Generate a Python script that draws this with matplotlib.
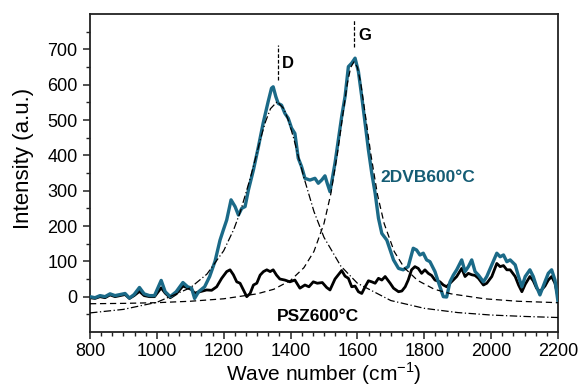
import matplotlib
matplotlib.use('Agg')
import matplotlib.pyplot as plt
import matplotlib.ticker as mticker

plt.rcParams['font.family'] = ['Liberation Sans', 'DejaVu Sans']
plt.rcParams['mathtext.fontset'] = 'custom'
plt.rcParams['mathtext.rm'] = 'Liberation Sans'

# 2DVB600°C spectrum
dvb_x = [800, 815, 830, 845, 860, 875, 890, 905, 918, 932, 948, 962, 978, 993,
         1013, 1025, 1040, 1058, 1078, 1092, 1104, 1113, 1125, 1143, 1158, 1174,
         1189, 1199, 1209, 1222, 1234, 1244, 1254, 1264, 1274, 1289, 1304, 1318,
         1333, 1343, 1348, 1356, 1363, 1373, 1383, 1393, 1403, 1413, 1423, 1433,
         1443, 1458, 1473, 1483, 1493, 1503, 1510, 1518, 1533, 1543, 1553, 1563,
         1573, 1583, 1593, 1603, 1613, 1623, 1633, 1643, 1653, 1663, 1673, 1688,
         1698, 1708, 1723, 1737, 1752, 1767, 1777, 1787, 1797, 1807, 1817, 1832,
         1842, 1857, 1867, 1877, 1887, 1897, 1912, 1922, 1932, 1942, 1952, 1962,
         1977, 1987, 2002, 2017, 2027, 2037, 2047, 2057, 2072, 2082, 2092, 2102,
         2116, 2126, 2136, 2146, 2161, 2171, 2181, 2191, 2200]
dvb_y = [0, -3, 3, 0, 8, 3, 6, 9, -4, 6, 26, 8, 3, 3,
         46, 14, 0, 14, 40, 28, 24, -5, 14, 28, 57, 100,
         160, 189, 217, 274, 255, 231, 250, 255, 302, 359, 425, 491,
         552, 590, 594, 566, 547, 542, 519, 505, 477, 462, 392, 368,
         335, 330, 335, 321, 330, 342, 320, 297, 378, 444, 510, 566,
         651, 661, 675, 637, 566, 491, 415, 349, 293, 222, 179, 160,
         132, 104, 80, 76, 85, 137, 132, 118, 123, 104, 99, 71,
         42, 0, -1, 42, 61, 76, 104, 71, 85, 104, 71, 61,
         42, 57, 90, 123, 113, 118, 99, 104, 90, 57, 28, 57,
         76, 57, 28, 5, 42, 66, 76, 47, -14]

# PSZ600°C spectrum
psz_x = [800, 815, 830, 845, 860, 875, 890, 905, 918, 932, 948, 962, 978, 993,
         1013, 1025, 1040, 1058, 1078, 1092, 1104, 1113, 1129, 1149, 1164, 1179,
         1194, 1209, 1219, 1229, 1239, 1249, 1259, 1269, 1279, 1289, 1299, 1309,
         1319, 1329, 1339, 1348, 1358, 1368, 1383, 1398, 1413, 1428, 1443, 1455,
         1468, 1480, 1495, 1508, 1518, 1533, 1553, 1563, 1573, 1583, 1593, 1603,
         1613, 1623, 1633, 1643, 1653, 1663, 1673, 1683, 1698, 1708, 1723, 1733,
         1743, 1752, 1762, 1772, 1782, 1792, 1802, 1812, 1822, 1832, 1847, 1857,
         1867, 1877, 1897, 1912, 1922, 1932, 1942, 1952, 1962, 1977, 1987, 2002,
         2017, 2027, 2037, 2047, 2057, 2072, 2082, 2092, 2102, 2116, 2126, 2136,
         2146, 2161, 2171, 2181, 2191, 2200]
psz_y = [-3, -5, 0, -3, 5, 0, 3, 6, -5, 3, 15, 3, 0, 0,
         25, 10, -3, 8, 30, 25, 20, 10, 14, 19, 18, 28,
         52, 71, 76, 62, 42, 38, 19, 0, 9, 33, 38, 61,
         71, 76, 71, 76, 61, 50, 47, 42, 47, 24, 33, 28,
         42, 38, 40, 26, 19, 50, 74, 58, 52, 28, 30, 14,
         9, 28, 45, 42, 38, 52, 47, 57, 38, 24, 14, 16,
         28, 47, 76, 85, 80, 66, 76, 66, 60, 47, 42, 33,
         28, 38, 57, 80, 57, 66, 62, 60, 52, 33, 38, 57,
         94, 85, 88, 76, 76, 57, 33, 14, 35, 57, 45, 24,
         14, 30, 47, 57, 38, 0]

# D band fit (dash-dot)
fitd_x = [800, 900, 1000, 1100, 1150, 1200, 1230, 1250, 1280, 1295, 1310, 1325,
          1340, 1360, 1380, 1395, 1410, 1425, 1440, 1470, 1500, 1550, 1600, 1700,
          1800, 1900, 2000, 2100, 2200]
fitd_y = [-46, -36, -16, 25, 64, 130, 190, 241, 337, 391, 446, 495,
          532, 552, 532, 495, 446, 391, 337, 241, 168, 87, 38, -11,
          -33, -45, -52, -56, -59]

# G band fit (dashed)
fitg_x = [800, 900, 1000, 1100, 1200, 1300, 1350, 1400, 1440, 1470, 1500, 1520,
          1540, 1555, 1570, 1580, 1590, 1600, 1610, 1625, 1640, 1660, 1680, 1710,
          1740, 1780, 1830, 1880, 1980, 2080, 2200]
fitg_y = [-20, -19, -17, -13, -6, 8, 21, 46, 82, 128, 207, 289,
          404, 506, 604, 649, 665, 649, 604, 506, 404, 289, 207, 128,
          82, 46, 21, 8, -6, -13, -17]

BLUE = '#1b6a88'
LABEL_BLUE = '#145c74'

fig = plt.figure(figsize=(5.79, 3.86), dpi=100)
ax = fig.add_axes([0.1554, 0.1399, 0.8083, 0.8238])

ax.plot(psz_x, psz_y, color='black', lw=2.0, zorder=2)
ax.plot(dvb_x, dvb_y, color=BLUE, lw=2.4, zorder=3)
ax.plot(fitd_x, fitd_y, color='black', lw=0.9, ls=(0, (6, 2, 1, 2)), zorder=4)
ax.plot(fitg_x, fitg_y, color='black', lw=0.9, ls=(0, (5, 3)), zorder=4)

# peak markers
ax.plot([1363, 1363], [613, 712], color='black', lw=0.9, ls=(0, (3, 1.5)))
ax.plot([1590, 1590], [708, 785], color='black', lw=0.9, ls=(0, (3, 1.5)))
ax.text(1374, 660, 'D', fontsize=12, fontweight='bold', va='center', ha='left')
ax.text(1602, 740, 'G', fontsize=12, fontweight='bold', va='center', ha='left')
ax.text(1668, 337, '2DVB600°C', fontsize=12.5, fontweight='bold',
        color=LABEL_BLUE, va='center', ha='left')
ax.text(1482, -55, 'PSZ600°C', fontsize=12.5, fontweight='bold',
        color='black', va='center', ha='center')

ax.set_xlim(800, 2200)
ax.set_ylim(-100, 800)
ax.set_xticks(range(800, 2201, 200))
ax.xaxis.set_minor_locator(mticker.MultipleLocator(200 / 6))
ax.set_yticks(range(0, 701, 100))
ax.set_yticks([-50] + list(range(50, 800, 50)), minor=True)

ax.tick_params(axis='both', which='major', direction='out', length=5, width=1.1,
               labelsize=13, pad=4, color='#222222')
ax.tick_params(axis='x', which='major', pad=3)
ax.tick_params(axis='both', which='minor', direction='out', length=3, width=1.0,
               color='#222222')
ax.tick_params(top=False, right=False, which='both')

for s in ax.spines.values():
    s.set_linewidth(1.3)
    s.set_color('#222222')

ax.set_xlabel('Wave number (cm$^{-1}$)', fontsize=15, labelpad=0)
ax.set_ylabel('Intensity (a.u.)', fontsize=16)
ax.yaxis.set_label_coords(-0.12, 0.547)

plt.savefig('out.png', dpi=100, facecolor='white')
plt.close()
